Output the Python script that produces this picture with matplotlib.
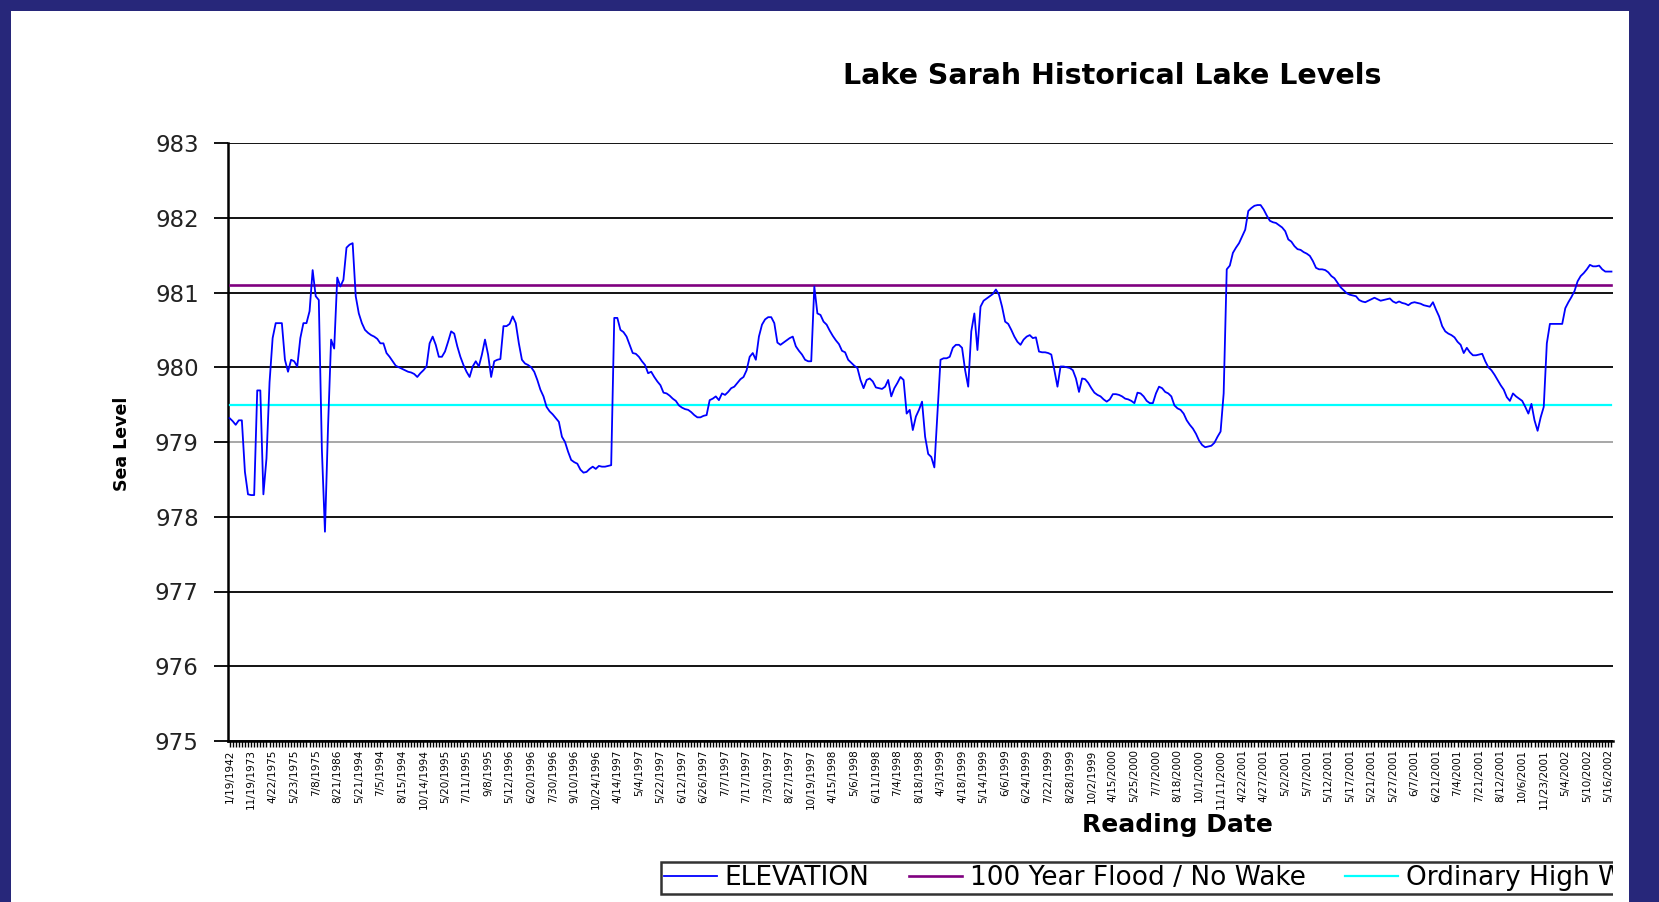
import numpy as np
import matplotlib
matplotlib.use("Agg")
import matplotlib.pyplot as plt
from matplotlib.patches import Rectangle
from matplotlib.transforms import Bbox, TransformedBbox

# ---------------- data ----------------
date_labels = [
    "1/19/1942", "11/19/1973", "4/22/1975", "5/23/1975", "7/8/1975", "8/21/1986",
    "5/21/1994", "7/5/1994", "8/15/1994", "10/14/1994", "5/20/1995", "7/11/1995",
    "9/8/1995", "5/12/1996", "6/20/1996", "7/30/1996", "9/10/1996", "10/24/1996",
    "4/14/1997", "5/4/1997", "5/22/1997", "6/12/1997", "6/26/1997", "7/7/1997",
    "7/17/1997", "7/30/1997", "8/27/1997", "10/19/1997", "4/15/1998", "5/6/1998",
    "6/11/1998", "7/4/1998", "8/18/1998", "4/3/1999", "4/18/1999", "5/14/1999",
    "6/6/1999", "6/24/1999", "7/22/1999", "8/28/1999", "10/2/1999", "4/15/2000",
    "5/25/2000", "7/7/2000", "8/18/2000", "10/1/2000", "11/11/2000", "4/22/2001",
    "4/27/2001", "5/2/2001", "5/7/2001", "5/12/2001", "5/17/2001", "5/21/2001",
    "5/27/2001", "6/7/2001", "6/21/2001", "7/4/2001", "7/21/2001", "8/12/2001",
    "10/6/2001", "11/23/2001", "5/4/2002", "5/10/2002", "5/16/2002",
]

elevation = [
    979.32, 979.28, 979.23, 979.29, 979.29, 978.60, 978.30,
    978.29, 978.29, 979.69, 979.69, 978.30, 978.78, 979.80,
    980.39, 980.59, 980.59, 980.59, 980.10, 979.94, 980.10,
    980.08, 980.01, 980.39, 980.59, 980.59, 980.75, 981.30,
    980.95, 980.90, 978.90, 977.80, 979.20, 980.37, 980.25,
    981.20, 981.08, 981.17, 981.60, 981.64, 981.66, 980.95,
    980.72, 980.59, 980.50, 980.46, 980.43, 980.41, 980.38,
    980.32, 980.32, 980.19, 980.14, 980.08, 980.02, 980.00,
    979.98, 979.96, 979.94, 979.93, 979.91, 979.87, 979.92,
    979.96, 980.01, 980.32, 980.41, 980.30, 980.14, 980.14,
    980.21, 980.34, 980.48, 980.45, 980.28, 980.14, 980.03,
    979.94, 979.87, 980.01, 980.08, 980.01, 980.17, 980.37,
    980.17, 979.87, 980.08, 980.10, 980.11, 980.55, 980.55,
    980.58, 980.68, 980.59, 980.32, 980.10, 980.05, 980.03,
    980.00, 979.94, 979.83, 979.70, 979.61, 979.47, 979.41,
    979.37, 979.32, 979.27, 979.07, 979.00, 978.87, 978.76,
    978.73, 978.71, 978.63, 978.59, 978.60, 978.64, 978.67,
    978.64, 978.68, 978.67, 978.67, 978.68, 978.69, 980.66,
    980.66, 980.50, 980.47, 980.41, 980.30, 980.19, 980.18,
    980.14, 980.08, 980.03, 979.92, 979.94, 979.87, 979.81,
    979.76, 979.66, 979.65, 979.62, 979.58, 979.55, 979.49,
    979.46, 979.44, 979.43, 979.40, 979.36, 979.33, 979.33,
    979.35, 979.36, 979.56, 979.58, 979.61, 979.56, 979.65,
    979.63, 979.67, 979.72, 979.74, 979.79, 979.84, 979.87,
    979.96, 980.14, 980.19, 980.10, 980.41, 980.57, 980.64,
    980.67, 980.67, 980.59, 980.33, 980.30, 980.33, 980.36,
    980.39, 980.41, 980.28, 980.22, 980.17, 980.10, 980.08,
    980.08, 981.08, 980.72, 980.70, 980.61, 980.57, 980.49,
    980.42, 980.36, 980.31, 980.22, 980.20, 980.10, 980.06,
    980.02, 979.99, 979.83, 979.72, 979.83, 979.85, 979.81,
    979.73, 979.72, 979.71, 979.74, 979.83, 979.61, 979.72,
    979.79, 979.87, 979.83, 979.38, 979.43, 979.16, 979.34,
    979.43, 979.54, 979.07, 978.84, 978.80, 978.66, 979.38,
    980.10, 980.12, 980.12, 980.14, 980.26, 980.30, 980.30,
    980.26, 979.96, 979.74, 980.48, 980.72, 980.23, 980.81,
    980.89, 980.92, 980.95, 980.98, 981.04, 980.97, 980.81,
    980.61, 980.58, 980.50, 980.41, 980.34, 980.30, 980.37,
    980.41, 980.43, 980.39, 980.40, 980.21, 980.20, 980.20,
    980.19, 980.17, 979.96, 979.74, 980.01, 980.01, 980.00,
    979.99, 979.96, 979.85, 979.67, 979.85, 979.84, 979.79,
    979.72, 979.66, 979.63, 979.61, 979.57, 979.54, 979.57,
    979.64, 979.64, 979.63, 979.61, 979.58, 979.57, 979.55,
    979.52, 979.66, 979.65, 979.61, 979.55, 979.52, 979.52,
    979.65, 979.74, 979.72, 979.67, 979.65, 979.61, 979.49,
    979.45, 979.43, 979.38, 979.29, 979.23, 979.18, 979.11,
    979.02, 978.96, 978.93, 978.94, 978.95, 978.99, 979.07,
    979.14, 979.65, 981.31, 981.36, 981.53, 981.60, 981.66,
    981.75, 981.84, 982.09, 982.13, 982.16, 982.17, 982.17,
    982.11, 982.03, 981.96, 981.94, 981.93, 981.90, 981.87,
    981.82, 981.71, 981.68, 981.62, 981.58, 981.57, 981.54,
    981.52, 981.49, 981.42, 981.33, 981.31, 981.31, 981.30,
    981.27, 981.22, 981.19, 981.13, 981.07, 981.03, 980.99,
    980.97, 980.96, 980.95, 980.90, 980.88, 980.87, 980.89,
    980.91, 980.93, 980.91, 980.89, 980.90, 980.91, 980.92,
    980.88, 980.86, 980.88, 980.86, 980.85, 980.83, 980.86,
    980.87, 980.86, 980.85, 980.83, 980.82, 980.81, 980.87,
    980.77, 980.68, 980.55, 980.48, 980.45, 980.43, 980.40,
    980.34, 980.30, 980.19, 980.26, 980.20, 980.16, 980.16,
    980.17, 980.18, 980.08, 980.00, 979.96, 979.90, 979.83,
    979.76, 979.70, 979.60, 979.55, 979.65, 979.61, 979.58,
    979.55, 979.47, 979.38, 979.51, 979.29, 979.15, 979.33,
    979.47, 980.32, 980.58, 980.58, 980.58, 980.58, 980.58,
    980.79, 980.87, 980.94, 981.02, 981.15, 981.22, 981.26,
    981.31, 981.37, 981.35, 981.35, 981.36, 981.31, 981.28,
    981.28, 981.28,
]

flood_level = 981.1      # 100 Year Flood / No Wake
ohw_level = 979.5        # Ordinary High Water
label_step = 7
y_ticks = [975, 976, 977, 978, 979, 980, 981, 982, 983]

series_names = ["ELEVATION", "100 Year Flood / No Wake", "Ordinary High Water"]

# ---------------- figure ----------------
W, H = 1659, 902
fig = plt.figure(figsize=(W / 100, H / 100), dpi=100, facecolor="#27277a")
fig.patches.append(Rectangle((11 / W, 0), (1629 - 11) / W, (H - 11) / H,
                             transform=fig.transFigure, facecolor="white",
                             edgecolor="none", zorder=-10))

ax = fig.add_axes([228 / W, 1 - 741 / H, (1613 - 228) / W, (741 - 143) / H])
ax.set_zorder(1)
ax.set_facecolor("white")

n = len(elevation)
x = np.arange(n)
ax.plot(x, elevation, color="#0000ff", lw=1.3, label=series_names[0], zorder=4)
ax.plot(x, np.full(n, flood_level), color="#800080", lw=1.9,
        label=series_names[1], zorder=3)
ax.plot(x, np.full(n, ohw_level), color="#00ffff", lw=1.6,
        label=series_names[2], zorder=3)

ax.set_xlim(-0.5, n - 0.5)
ax.set_ylim(y_ticks[0], y_ticks[-1])

# y axis
ax.set_yticks(y_ticks)
ax.set_yticklabels([str(v) for v in y_ticks])
ax.yaxis.grid(True, color="black", lw=1.3)
ax.set_axisbelow(True)
for v, gl in zip(y_ticks, ax.yaxis.get_gridlines()):
    if v == 979:
        gl.set_color("#a0a0a0")
ax.tick_params(axis="y", length=10, width=1.3, direction="out", labelsize=16.5,
               pad=11, colors="black", labelcolor="#222222")

# x axis (categorical)
ax.set_xticks(x[::label_step])
ax.set_xticklabels(date_labels, rotation=90, va="top", ha="center")
ax.set_xticks(x, minor=True)
ax.tick_params(axis="x", which="both", length=4, width=1.0, direction="out",
               pad=2)
for lab in ax.get_xticklabels():
    lab.set_fontsize(7.5)

for s in ("top", "right"):
    ax.spines[s].set_visible(False)
for s in ("left", "bottom"):
    ax.spines[s].set_color("black")
    ax.spines[s].set_linewidth(1.8)

# texts
fig.text(1112 / W, 1 - 76 / H, "Lake Sarah Historical Lake Levels",
         ha="center", va="center", fontsize=20.5, fontweight="bold")
fig.text(1177 / W, 1 - 825 / H, "Reading Date", ha="center", va="center",
         fontsize=18, fontweight="bold")
fig.text(122 / W, 1 - 444 / H, "Sea Level", ha="center", va="center",
         rotation=90, fontsize=12.5, fontweight="bold")

# legend (clipped at the right edge of the plot, like the original)
leg = ax.legend(loc="lower left", bbox_to_anchor=(661 / W, 8 / H),
                bbox_transform=fig.transFigure, ncol=3, frameon=True,
                fancybox=False, fontsize=19, handlelength=2.0,
                handletextpad=0.3, columnspacing=1.5, borderpad=0.12,
                borderaxespad=0)
leg.get_frame().set_edgecolor("black")
leg.get_frame().set_linewidth(1.8)
clip = TransformedBbox(Bbox([[0, 0], [1613 / W, 1]]), fig.transFigure)
for a in [leg.legendPatch, *leg.get_texts(), *leg.legend_handles]:
    a.set_clip_box(clip)
    a.set_clip_on(True)

fig.savefig("out.png", dpi=100, facecolor=fig.get_facecolor())
